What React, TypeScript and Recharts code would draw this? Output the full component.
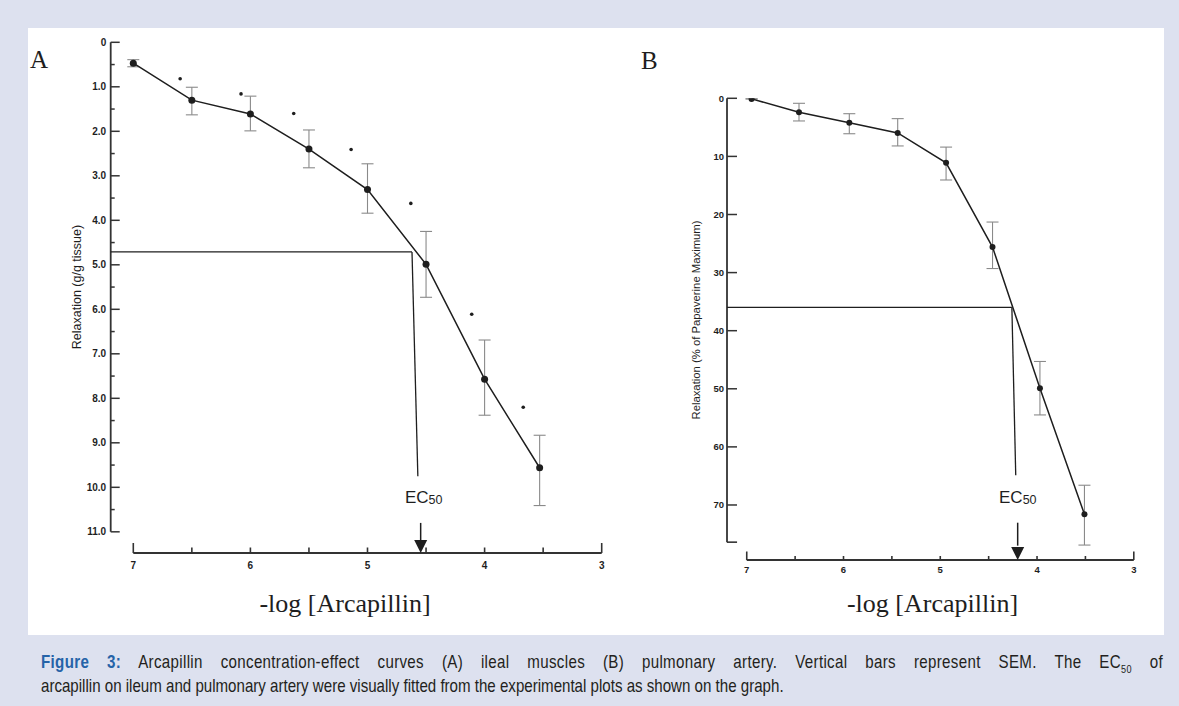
import React from "react";
import {
  ComposedChart,
  ErrorBar,
  Line,
  ReferenceLine,
  Scatter,
  XAxis,
  YAxis,
} from "recharts";

const SANS = "'Liberation Sans', Arial, sans-serif";
const SERIF = "'Liberation Serif', 'Times New Roman', serif";
const INK = "#1e1e1e";
const AXIS = "#333";
const BAR = "#8a8a8a";

// ---- panel A: ileal muscle ----
const doseA = [7, 6.5, 6, 5.5, 5, 4.5, 4, 3.53];
const relaxA = [0.47, 1.3, 1.61, 2.4, 3.31, 4.99, 7.57, 9.56];
// SEM as [below, above]
const semA = [
  [0.08, 0.08],
  [0.29, 0.33],
  [0.4, 0.38],
  [0.43, 0.42],
  [0.58, 0.53],
  [0.74, 0.74],
  [0.88, 0.81],
  [0.73, 0.85],
];
// significance marks
const starDoseA = [6.6, 6.08, 5.63, 5.14, 4.63, 4.11, 3.67];
const starRelaxA = [0.82, 1.16, 1.6, 2.41, 3.62, 6.11, 8.2];
const ticksAX = [3, 3.5, 4, 4.5, 5, 5.5, 6, 6.5, 7];
const ticksAY = [0, 0.5, 1, 1.5, 2, 2.5, 3, 3.5, 4, 4.5, 5, 5.5, 6, 6.5, 7, 7.5, 8, 8.5, 9, 9.5, 10, 10.5, 11];
const domainAX = [3, 7.193];
const domainAY = [0, 11.476];
// EC50 construction: level, drop line top x, drop line bottom (x, y), arrow x, shaft top, label pos
const ec50LevelA = 4.71;
const ec50DropA = [4.62, 4.57, 9.75];
const ec50ArrowA = [4.546, 10.8];
const ec50LabelA = [4.68, 10.35];

// ---- panel B: pulmonary artery ----
const doseB = [6.95, 6.46, 5.94, 5.44, 4.94, 4.46, 3.97, 3.51];
const relaxB = [0.1, 2.4, 4.2, 5.97, 11.1, 25.6, 49.9, 71.6];
const semB = [
  [0, 0],
  [1.54, 1.5],
  [1.55, 1.9],
  [2.47, 2.23],
  [2.7, 2.96],
  [4.3, 3.7],
  [4.6, 4.6],
  [5.0, 5.3],
];
const ticksBX = [3, 3.5, 4, 4.5, 5, 5.5, 6, 6.5, 7];
const ticksBY = [0, 10, 20, 30, 40, 50, 60, 70];
const domainBX = [3, 7.204];
const domainBY = [0, 79.47];
const yEndB = 76.4;
const ec50LevelB = 36.0;
const ec50DropB = [4.26, 4.22, 64.9];
const ec50ArrowB = [4.2, 73.05];
const ec50LabelB = [4.393, 69.66];

const pts = (xs: number[], ys: number[], errs?: number[][]) =>
  xs.map((x, i) => ({ x, y: ys[i], err: errs ? errs[i] : undefined }));

const ArrowHead = (p: any) => (
  <path d={`M${p.cx - 6.5},${p.cy - 13} L${p.cx + 6.5},${p.cy - 13} L${p.cx},${p.cy} Z`} fill={INK} />
);

const Ec50Text = (p: any) => (
  <text x={p.cx} y={p.cy} fontFamily={SANS} fontSize={17} fill={INK}>
    EC
    <tspan fontSize={12.5} dy={1}>
      50
    </tspan>
  </text>
);

const Star = (p: any) => <circle cx={p.cx} cy={p.cy} r={1.8} fill={INK} />;

function makeXTick(ends: number[], endLen: number, len: number, fontSize: number, dy: number) {
  return (p: any) => {
    const v = p.payload.value as number;
    const isEnd = ends.includes(v);
    const major = Number.isInteger(v);
    return (
      <g>
        <line x1={p.x} x2={p.x} y1={p.y} y2={p.y - (isEnd ? endLen : len)} stroke={AXIS} strokeWidth={1.6} />
        {major && (
          <text x={p.x} y={p.y + dy} textAnchor="middle" fontFamily={SANS} fontWeight={700} fontSize={fontSize} fill={INK}>
            {v}
          </text>
        )}
      </g>
    );
  };
}

function makeYTick(majorLen: number, minorLen: number, fontSize: number, gap: number, fmt: (v: number) => string) {
  return (p: any) => {
    const v = p.payload.value as number;
    const major = Number.isInteger(v);
    return (
      <g>
        <line x1={p.x} x2={p.x + (major ? majorLen : minorLen)} y1={p.y} y2={p.y} stroke={AXIS} strokeWidth={1.5} />
        {major && (
          <text x={p.x - gap} y={p.y + fontSize * 0.36} textAnchor="end" fontFamily={SANS} fontWeight={700} fontSize={fontSize} fill={INK}>
            {fmt(v)}
          </text>
        )}
      </g>
    );
  };
}

const xTickA = makeXTick([3, 7], 10, 5.5, 10, 16);
const yTickA = makeYTick(9, 4, 10, 4.5, (v) => (v === 0 ? "0" : v.toFixed(1)));
const xTickB = makeXTick([3, 7], 8.5, 4, 9.5, 12.5);
const yTickB = makeYTick(10, 10, 9.5, 3, (v) => String(v));

function PanelA() {
  const data = pts(doseA, relaxA, semA);
  const stars = pts(starDoseA, starRelaxA);
  return (
    <ComposedChart width={640} height={640} margin={{ top: 42.3, right: 38.3, bottom: 57, left: 70.7 }}>
      <XAxis
        type="number"
        dataKey="x"
        domain={domainAX}
        reversed
        allowDataOverflow
        ticks={ticksAX}
        interval={0}
        axisLine={false}
        tickLine={false}
        tickSize={0}
        tickMargin={0}
        height={30}
        tick={xTickA}
      />
      <YAxis
        type="number"
        dataKey="y"
        domain={domainAY}
        reversed
        allowDataOverflow
        ticks={ticksAY}
        interval={0}
        axisLine={false}
        tickLine={false}
        tickSize={0}
        tickMargin={0}
        width={40}
        tick={yTickA}
      />
      <ReferenceLine ifOverflow="visible" stroke={AXIS} strokeWidth={1.8}
        segment={[{ x: domainAX[1], y: 0 }, { x: domainAX[1], y: 11 }]} />
      <ReferenceLine ifOverflow="visible" stroke={AXIS} strokeWidth={1.8}
        segment={[{ x: 7, y: domainAY[1] }, { x: 3, y: domainAY[1] }]} />
      <ReferenceLine ifOverflow="visible" stroke={INK} strokeWidth={1.3}
        segment={[{ x: domainAX[1], y: ec50LevelA }, { x: ec50DropA[0], y: ec50LevelA }]} />
      <ReferenceLine ifOverflow="visible" stroke={INK} strokeWidth={1.3}
        segment={[{ x: ec50DropA[0], y: ec50LevelA }, { x: ec50DropA[1], y: ec50DropA[2] }]} />
      <ReferenceLine ifOverflow="visible" stroke={INK} strokeWidth={1.5}
        segment={[{ x: ec50ArrowA[0], y: ec50ArrowA[1] }, { x: ec50ArrowA[0], y: 11.2 }]} />
      <Scatter data={[{ x: ec50ArrowA[0], y: domainAY[1] }]} dataKey="y" shape={ArrowHead} isAnimationActive={false} />
      <Scatter data={[{ x: ec50LabelA[0], y: ec50LabelA[1] }]} dataKey="y" shape={Ec50Text} isAnimationActive={false} />
      <Scatter data={stars} dataKey="y" shape={Star} isAnimationActive={false} />
      <Line
        data={data}
        dataKey="y"
        type="linear"
        stroke={INK}
        strokeWidth={1.5}
        dot={{ r: 3.5, fill: INK, stroke: INK, strokeWidth: 0 }}
        activeDot={false}
        isAnimationActive={false}
      >
        <ErrorBar dataKey="err" width={6} stroke={BAR} strokeWidth={1.1} direction="y" isAnimationActive={false} />
      </Line>
    </ComposedChart>
  );
}

function PanelB() {
  const data = pts(doseB, relaxB, semB);
  return (
    <ComposedChart width={559} height={640} margin={{ top: 98.3, right: 45.2, bottom: 50, left: 67 }}>
      <XAxis
        type="number"
        dataKey="x"
        domain={domainBX}
        reversed
        allowDataOverflow
        ticks={ticksBX}
        interval={0}
        axisLine={false}
        tickLine={false}
        tickSize={0}
        tickMargin={0}
        height={30}
        tick={xTickB}
      />
      <YAxis
        type="number"
        dataKey="y"
        domain={domainBY}
        reversed
        allowDataOverflow
        ticks={ticksBY}
        interval={0}
        axisLine={false}
        tickLine={false}
        tickSize={0}
        tickMargin={0}
        width={40}
        tick={yTickB}
      />
      <ReferenceLine ifOverflow="visible" stroke={AXIS} strokeWidth={1.8}
        segment={[{ x: domainBX[1], y: 0 }, { x: domainBX[1], y: yEndB }]} />
      <ReferenceLine ifOverflow="visible" stroke={AXIS} strokeWidth={1.6}
        segment={[{ x: domainBX[1], y: yEndB }, { x: 7.1, y: yEndB }]} />
      <ReferenceLine ifOverflow="visible" stroke={AXIS} strokeWidth={1.8}
        segment={[{ x: 7, y: domainBY[1] }, { x: 3, y: domainBY[1] }]} />
      <ReferenceLine ifOverflow="visible" stroke={INK} strokeWidth={1.3}
        segment={[{ x: domainBX[1], y: ec50LevelB }, { x: ec50DropB[0], y: ec50LevelB }]} />
      <ReferenceLine ifOverflow="visible" stroke={INK} strokeWidth={1.3}
        segment={[{ x: ec50DropB[0], y: ec50LevelB }, { x: ec50DropB[1], y: ec50DropB[2] }]} />
      <ReferenceLine ifOverflow="visible" stroke={INK} strokeWidth={1.5}
        segment={[{ x: ec50ArrowB[0], y: ec50ArrowB[1] }, { x: ec50ArrowB[0], y: 77 }]} />
      <Scatter data={[{ x: ec50ArrowB[0], y: domainBY[1] }]} dataKey="y" shape={ArrowHead} isAnimationActive={false} />
      <Scatter data={[{ x: ec50LabelB[0], y: ec50LabelB[1] }]} dataKey="y" shape={Ec50Text} isAnimationActive={false} />
      <Line
        data={data}
        dataKey="y"
        type="linear"
        stroke={INK}
        strokeWidth={1.5}
        dot={{ r: 3, fill: INK, stroke: INK, strokeWidth: 0 }}
        activeDot={false}
        isAnimationActive={false}
      >
        <ErrorBar dataKey="err" width={6} stroke={BAR} strokeWidth={1.1} direction="y" isAnimationActive={false} />
      </Line>
    </ComposedChart>
  );
}

const abs = (left: number, top: number, extra: React.CSSProperties = {}): React.CSSProperties => ({
  position: "absolute",
  left,
  top,
  ...extra,
});

const rotated = (cx: number, cy: number, size: number): React.CSSProperties => ({
  position: "absolute",
  left: cx,
  top: cy,
  transform: "translate(-50%, -50%) rotate(-90deg)",
  whiteSpace: "nowrap",
  fontFamily: SANS,
  fontSize: size,
  color: INK,
  lineHeight: 1,
});

export default function App() {
  const squeeze = 0.83;
  const captionStyle: React.CSSProperties = {
    position: "absolute",
    left: 41,
    fontFamily: SANS,
    fontSize: 18.2,
    lineHeight: "24px",
    color: "#231f20",
    transform: `scaleX(${squeeze})`,
    transformOrigin: "left top",
    whiteSpace: "nowrap",
  };
  return (
    <div style={{ position: "absolute", left: 0, top: 0, width: 1179, height: 706, background: "#dde1ef", overflow: "hidden" }}>
      <div style={abs(28, 28, { width: 1136, height: 607, background: "#fff" })} />
      <div style={abs(0, 0)}>
        <PanelA />
      </div>
      <div style={abs(620, 0)}>
        <PanelB />
      </div>

      <div style={abs(30, 47, { fontFamily: SERIF, fontSize: 25, lineHeight: 1, color: INK })}>A</div>
      <div style={abs(641, 48, { fontFamily: SERIF, fontSize: 25, lineHeight: 1, color: INK })}>B</div>

      <div style={rotated(77, 287, 12.5)}>Relaxation (g/g tissue)</div>
      <div style={rotated(696.6, 320, 11.3)}>Relaxation (% of Papaverine Maximum)</div>

      <div style={abs(345, 591, { transform: "translateX(-50%)", fontFamily: SERIF, fontSize: 26, lineHeight: 1, whiteSpace: "nowrap", color: INK })}>
        -log [Arcapillin]
      </div>
      <div style={abs(932.5, 591, { transform: "translateX(-50%)", fontFamily: SERIF, fontSize: 26, lineHeight: 1, whiteSpace: "nowrap", color: INK })}>
        -log [Arcapillin]
      </div>

      <div
        style={{
          ...captionStyle,
          top: 650,
          width: 1122 / squeeze,
          textAlign: "justify",
          textAlignLast: "justify",
          letterSpacing: 0.4,
          whiteSpace: "normal",
        }}
      >
        <span style={{ color: "#2563a8", fontWeight: 700 }}>Figure 3:</span> Arcapillin concentration-effect curves (A) ileal
        muscles (B) pulmonary artery. Vertical bars represent SEM. The EC
        <span style={{ fontSize: 11, position: "relative", top: 5 }}>50</span> of
      </div>
      <div style={{ ...captionStyle, top: 674 }}>
        arcapillin on ileum and pulmonary artery were visually fitted from the experimental plots as shown on the graph.
      </div>
    </div>
  );
}
